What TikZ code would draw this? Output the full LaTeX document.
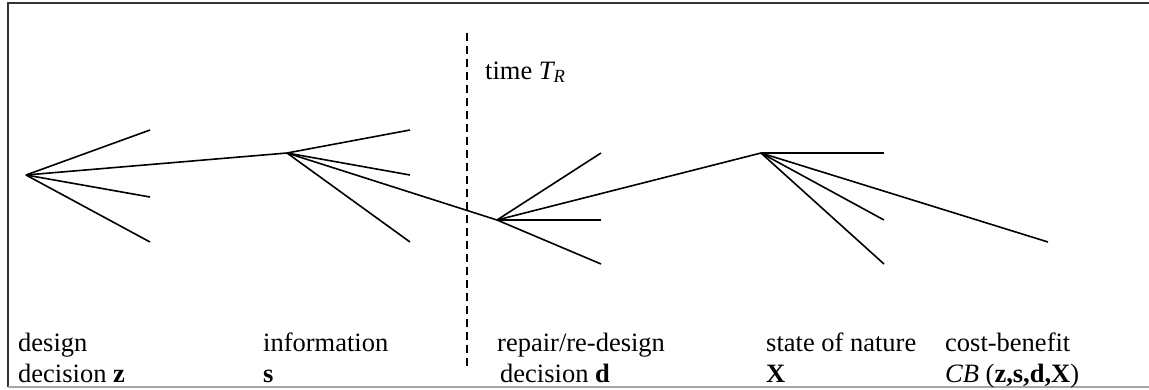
\documentclass[tikz,border=0pt]{standalone}
\usepackage{fontspec}
\setmainfont{Liberation Serif}
\begin{document}
\begin{tikzpicture}[x=1pt,y=-1pt,
  branch/.style={line width=1.6pt,black},
  lbl/.style={anchor=base west,inner sep=0pt,font=\fontsize{26.5}{32}\selectfont},
  frameline/.style={line width=2pt,black!80}]
\useasboundingbox (0,0) rectangle (1149,389);
% frame
\draw[frameline] (8,387) -- (8,3) -- (1149,3);
\draw[line width=1.5pt,black!35] (8,387) -- (1149,387);
% dashed time line
\coordinate (t1) at (467,33);
\coordinate (t2) at (467,368);
\draw[line width=1.3pt,dash pattern=on 8pt off 5pt] (t1) -- (t2);
\node[lbl] (time) at (485,79) {time \textit{T\textsubscript{R}}};
% decision points
\coordinate (Z) at (26,175);
\coordinate (S) at (287,153);
\coordinate (D) at (497,220);
\coordinate (X) at (761,153);
% Z branches
\coordinate (z1) at (150,130);
\coordinate (z2) at (150,197);
\coordinate (z3) at (150,242);
\draw[branch] (Z) -- (z1);
\draw[branch] (Z) -- (z2);
\draw[branch] (Z) -- (z3);
\draw[branch] (Z) -- (S);
% S branches
\coordinate (s1) at (410,130);
\coordinate (s2) at (410,175);
\coordinate (s3) at (410,242);
\draw[branch] (S) -- (s1);
\draw[branch] (S) -- (s2);
\draw[branch] (S) -- (s3);
\draw[branch] (S) -- (D);
% D branches
\coordinate (d1) at (601,153);
\coordinate (d2) at (601,220);
\coordinate (d3) at (601,264);
\draw[branch] (D) -- (d1);
\draw[branch] (D) -- (d2);
\draw[branch] (D) -- (d3);
\draw[branch] (D) -- (X);
% X branches
\coordinate (x1) at (884,153);
\coordinate (x2) at (884,220);
\coordinate (x3) at (884,264);
\coordinate (cb) at (1048,242);
\draw[branch] (X) -- (x1);
\draw[branch] (X) -- (x2);
\draw[branch] (X) -- (x3);
\draw[branch] (X) -- (cb);
% labels
\node[lbl] (l1a) at (18,351) {design};
\node[lbl] (l1b) at (18,382) {decision \textbf{z}};
\node[lbl] (l2a) at (263,351) {information};
\node[lbl] (l2b) at (263,382) {\textbf{s}};
\node[lbl] (l3a) at (497,351) {repair/re-design};
\node[lbl] (l3b) at (500,382) {decision \textbf{d}};
\node[lbl] (l4a) at (766,351) {state of nature};
\node[lbl] (l4b) at (766,382) {\textbf{X}};
\node[lbl] (l5a) at (945,351) {cost-benefit};
\node[lbl] (l5b) at (945,382) {\textit{CB} (\textbf{z,s,d,X})};
\end{tikzpicture}
\end{document}
